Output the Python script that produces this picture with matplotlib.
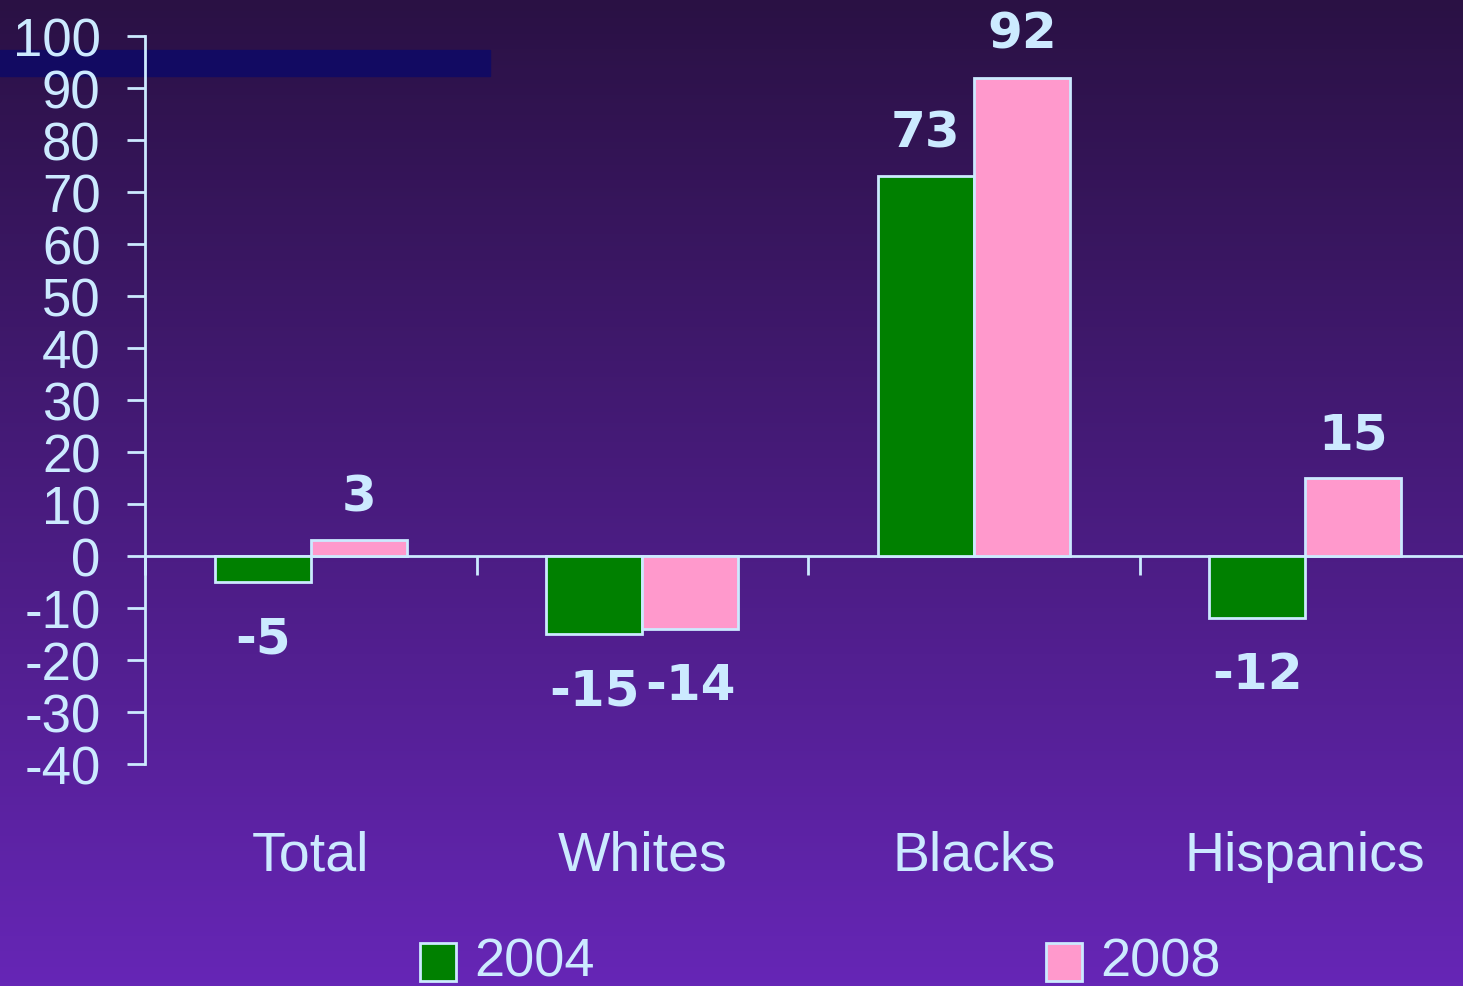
import numpy as np
import matplotlib
matplotlib.use("Agg")
import matplotlib.pyplot as plt
from matplotlib.patches import Rectangle
from matplotlib.transforms import blended_transform_factory

categories = ["Total", "Whites", "Blacks", "Hispanics"]
series_names = ["2004", "2008"]
values_2004 = [-5, -15, 73, -12]
values_2008 = [3, -14, 92, 15]
yticks = list(range(-40, 101, 10))

W, H = 1463, 987
fig = plt.figure(figsize=(W / 100, H / 100), dpi=100)

# background gradient
bg = fig.add_axes([0, 0, 1, 1], zorder=-10)
top = np.array([42, 17, 68]) / 255
bot = np.array([102, 38, 182]) / 255
t = np.linspace(0, 1, 256)[:, None]
grad = top[None, :] * (1 - t) + bot[None, :] * t
bg.imshow(grad[:, None, :], aspect="auto", extent=[0, 1, 0, 1], origin="upper")
bg.set_axis_off()
# navy strip top-left
fig.patches.append(Rectangle((0, 1 - 77 / H), 490 / W, 26 / H, transform=fig.transFigure,
                             color="#120a62", zorder=-5))

fg = "#cceaff"
narrow = ["Liberation Sans", "DejaVu Sans"]

ax = fig.add_axes([145 / W, 1 - 765 / H, (1471 - 145) / W, (765 - 37) / H])
ax.patch.set_alpha(0)
x = np.arange(len(categories))
bw = 0.29
b1 = ax.bar(x - bw / 2, values_2004, bw, color="#008000", edgecolor=fg, linewidth=2, label=series_names[0], zorder=3)
b2 = ax.bar(x + bw / 2, values_2008, bw, color="#ff99cc", edgecolor=fg, linewidth=2, label=series_names[1], zorder=3)
ax.set_xlim(-0.5, 3.5)
ax.set_ylim(-40, 100)

for s in ["top", "right"]:
    ax.spines[s].set_visible(False)
ax.spines["left"].set_color(fg)
ax.spines["left"].set_linewidth(2)
ax.spines["bottom"].set_position(("data", 0))
ax.spines["bottom"].set_color(fg)
ax.spines["bottom"].set_linewidth(2)
ax.set_yticks(yticks)
ax.set_yticklabels([str(v) for v in yticks], fontsize=38, color=fg, family=narrow)
ax.tick_params(axis="y", length=13, width=2, color=fg, pad=19)
ax.set_xticks(np.arange(len(categories)) - 0.5)
ax.set_xticklabels([])
ax.tick_params(axis="x", length=14, width=2, color=fg, direction="out")

tr = blended_transform_factory(ax.transData, fig.transFigure)
for i, c in enumerate(categories):
    ax.text(i, 1 - 857 / H, c, transform=tr, ha="center", va="center",
            fontsize=40, color=fg, family=narrow)

for bars, vals in [(b1, values_2004), (b2, values_2008)]:
    for rect, v in zip(bars, vals):
        cx = rect.get_x() + rect.get_width() / 2
        off = 44 if v >= 0 else -56
        ax.annotate(str(v), (cx, v), xytext=(0, off), textcoords="offset pixels",
                    ha="center", va="center", fontsize=36, fontweight="bold",
                    color=fg, family="DejaVu Sans")

# legend
for (lx, name, col) in [(420, series_names[0], "#008000"), (1046, series_names[1], "#ff99cc")]:
    fig.patches.append(Rectangle((lx / W, 1 - 982 / H), 36 / W, 38 / H, transform=fig.transFigure,
                                 facecolor=col, edgecolor=fg, linewidth=2))
    fig.text((lx + 54) / W, 1 - 963 / H, name, ha="left", va="center", fontsize=39,
             color=fg, family=narrow)

fig.savefig("out.png", dpi=100)
